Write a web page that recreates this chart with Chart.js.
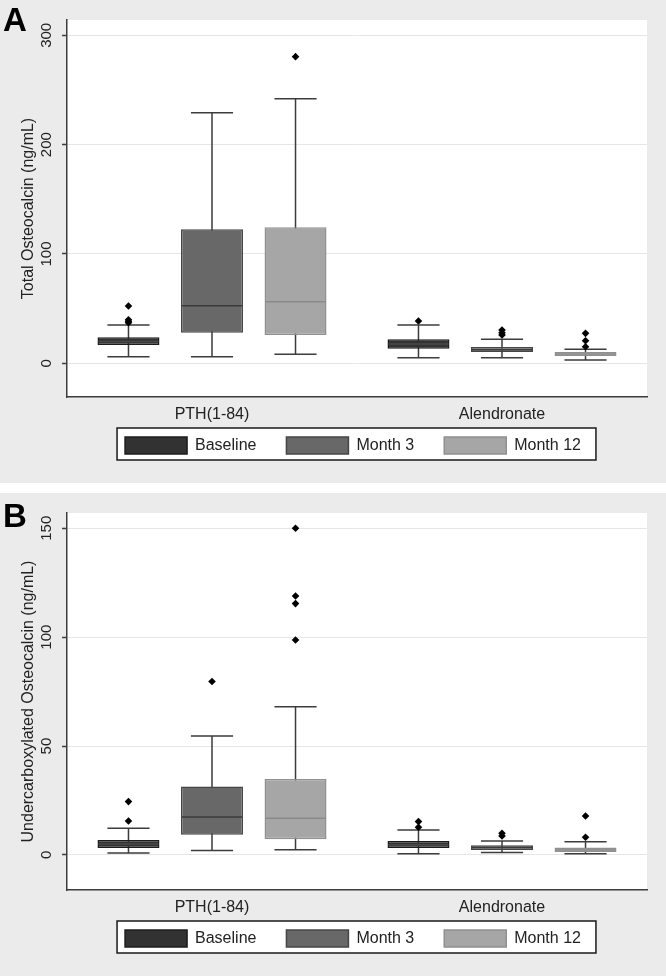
<!DOCTYPE html>
<html>
<head>
<meta charset="utf-8">
<script src="https://cdn.jsdelivr.net/npm/chart.js@4/dist/chart.umd.min.js"></script>
<style>
  html, body { margin: 0; padding: 0; background: #ffffff; }
  body { width: 666px; height: 976px; position: relative; overflow: hidden; }
  .panel { position: absolute; left: 0; width: 666px; height: 483px; background: #ebebeb; }
  #panelA { top: 0; }
  #panelB { top: 493px; }
  .panel canvas { position: absolute; left: 0; top: 0; }
  .letter { position: absolute; left: 3px; font: bold 33px "Liberation Sans", Arial, sans-serif; line-height: 33px; color: #000; }
</style>
</head>
<body>
<div class="panel" id="panelA">
  <canvas id="chartA" width="666" height="483"></canvas>
  <div class="letter" style="top:3px;">A</div>
</div>
<div class="panel" id="panelB">
  <canvas id="chartB" width="666" height="483"></canvas>
  <div class="letter" style="top:6px;">B</div>
</div>
<script>
// ---------------- DATA ----------------
const categories = ['PTH(1-84)', 'Alendronate'];
const seriesNames = ['Baseline', 'Month 3', 'Month 12'];

// Panel A: Total Osteocalcin (ng/mL)
// each entry per category: [lower whisker, Q1, median, Q3, upper whisker]
const totalBaseline = [[6, 16.8, 20, 23.8, 35], [5.1, 13.4, 17.7, 22, 35]];
const totalMonth3   = [[6, 28, 52.7, 122.6, 229.2], [5.1, 10.3, 12.5, 14.9, 22]];
const totalMonth12  = [[8.2, 25.9, 56.4, 124.4, 242], [3, 6.7, 8.5, 10.3, 12.8]];
const totalBaselineOut = [[52.4, 39.8, 38.5, 37.2], [38.7]];
const totalMonth3Out   = [[], [30.5, 28, 26]];
const totalMonth12Out  = [[280.5], [27.4, 20.7, 15.2]];
const totalTicks = [0, 100, 200, 300];

// Panel B: Undercarboxylated Osteocalcin (ng/mL)
const ucBaseline = [[0.9, 3.2, 5, 6.9, 12.2], [0.5, 3.2, 4.7, 6.4, 11.5]];
const ucMonth3   = [[2, 9.3, 17.4, 31.4, 54.6], [1.1, 2.3, 3.4, 4.4, 6.4]];
const ucMonth12  = [[2.4, 7.2, 16.8, 34.9, 68], [0.5, 1.4, 2.3, 3.4, 6]];
const ucBaselineOut = [[24.5, 15.6], [15.3, 12.7]];
const ucMonth3Out   = [[79.6], [9.9, 8.7]];
const ucMonth12Out  = [[150, 118.9, 115.4, 98.7], [17.9, 8.1]];
const ucTicks = [0, 50, 100, 150];

// ---------------- STYLE ----------------
const FONT = '"Liberation Sans", Arial, Helvetica, sans-serif';
Chart.defaults.font.family = FONT;
const fillColors   = ['#323232', '#686868', '#a6a6a6'];
const borderColors = ['#1c1c1c', '#454545', '#909090'];
const medianColors = ['#4a4a4a', '#3a3a3a', '#8a8a8a'];
const lineDark = '#3c3c3c';

const boxPlugin = {
  id: 'boxExtras',
  afterLayout(chart) {
    // pull the legend up next to the category labels and nudge it left
    const lg = chart.legend;
    if (lg) {
      lg.top -= 19; lg.bottom -= 19;
      lg.left -= 4; lg.right -= 4;
    }
  },
  beforeDraw(chart) {
    const {ctx, chartArea: a, width, height} = chart;
    ctx.save();
    ctx.fillStyle = '#ebebeb';
    ctx.fillRect(0, 0, width, height);
    ctx.fillStyle = '#ffffff';
    ctx.fillRect(a.left, a.top, a.right - a.left, a.bottom - a.top);
    const lg = chart.legend;
    if (lg && lg.legendHitBoxes && lg.legendHitBoxes.length) {
      const hb = lg.legendHitBoxes;
      const last = hb[hb.length - 1];
      const l = hb[0].left - 8, t = hb[0].top - 9;
      const r = last.left + last.width + 15, b = hb[0].top + hb[0].height + 6;
      ctx.fillStyle = '#ffffff';
      ctx.fillRect(l, t, r - l, b - t);
      ctx.strokeStyle = '#1a1a1a';
      ctx.lineWidth = 1.5;
      ctx.strokeRect(l, t, r - l, b - t);
    }
    ctx.restore();
  },
  beforeDatasetsDraw(chart) {
    const {ctx} = chart;
    const y = chart.scales.y;
    ctx.save();
    ctx.strokeStyle = lineDark;
    ctx.lineWidth = 1.5;
    chart.data.datasets.forEach((ds, i) => {
      const meta = chart.getDatasetMeta(i);
      meta.data.forEach((bar, j) => {
        const s = ds.stats[j];
        const x = bar.x, cw = bar.width * 0.68;
        const yLo = y.getPixelForValue(s[0]), yHi = y.getPixelForValue(s[4]);
        ctx.beginPath();
        ctx.moveTo(x, yLo); ctx.lineTo(x, yHi);
        ctx.moveTo(x - cw / 2, yLo); ctx.lineTo(x + cw / 2, yLo);
        ctx.moveTo(x - cw / 2, yHi); ctx.lineTo(x + cw / 2, yHi);
        ctx.stroke();
      });
    });
    ctx.restore();
  },
  afterDatasetsDraw(chart) {
    const {ctx} = chart;
    const y = chart.scales.y;
    ctx.save();
    chart.data.datasets.forEach((ds, i) => {
      const meta = chart.getDatasetMeta(i);
      meta.data.forEach((bar, j) => {
        const s = ds.stats[j];
        const x = bar.x, w = bar.width;
        const yMed = y.getPixelForValue(s[2]);
        ctx.strokeStyle = medianColors[i];
        ctx.lineWidth = 1.5;
        ctx.beginPath();
        ctx.moveTo(x - w / 2 + 1, yMed); ctx.lineTo(x + w / 2 - 1, yMed);
        ctx.stroke();
        ctx.fillStyle = '#000000';
        (ds.outliers[j] || []).forEach(v => {
          const py = y.getPixelForValue(v), r = 3.8;
          ctx.beginPath();
          ctx.moveTo(x, py - r); ctx.lineTo(x + r, py); ctx.lineTo(x, py + r); ctx.lineTo(x - r, py);
          ctx.closePath();
          ctx.fill();
        });
      });
    });
    ctx.restore();
  }
};

function makeChart(id, series, outliers, ticks, yMin, yMax, yTitle) {
  const datasets = series.map((stats, i) => ({
    label: seriesNames[i],
    data: stats.map(s => [s[1], s[3]]),
    stats: stats,
    outliers: outliers[i],
    backgroundColor: fillColors[i],
    borderColor: borderColors[i],
    borderWidth: 1.5,
    borderSkipped: false,
    categoryPercentage: 0.864,
    barPercentage: 0.742
  }));
  return new Chart(document.getElementById(id), {
    type: 'bar',
    data: { labels: categories, datasets },
    plugins: [boxPlugin],
    options: {
      responsive: false,
      animation: false,
      devicePixelRatio: 1,
      layout: { padding: { top: 20, right: 19, left: 0, bottom: 0 } },
      plugins: {
        tooltip: { enabled: false },
        legend: {
          position: 'bottom',
          fullSize: false,
          labels: {
            boxWidth: 62, boxHeight: 17, padding: 30,
            color: '#222', font: { size: 16, family: FONT }
          }
        }
      },
      scales: {
        x: {
          grid: { display: false, drawTicks: false },
          border: { display: true, color: lineDark, width: 1.5 },
          ticks: { color: '#222', font: { size: 16, family: FONT }, padding: 8 },
          afterFit: s => { s.height = 29; }
        },
        y: {
          min: yMin, max: yMax,
          afterBuildTicks: s => { s.ticks = ticks.map(v => ({ value: v })); },
          grid: { color: '#e6e6e6', lineWidth: 1, tickColor: lineDark, tickLength: 5, tickWidth: 1.5 },
          border: { display: true, color: lineDark, width: 1.5 },
          ticks: { minRotation: 90, maxRotation: 90, crossAlign: 'center', padding: 3,
                   color: '#222', font: { size: 15, family: FONT } },
          title: { display: true, text: yTitle, color: '#222',
                   font: { size: 16, family: FONT }, padding: { top: 19, bottom: 0 } },
          afterFit: s => { s.width = 67; }
        }
      }
    }
  });
}

makeChart('chartA', [totalBaseline, totalMonth3, totalMonth12],
          [totalBaselineOut, totalMonth3Out, totalMonth12Out],
          totalTicks, -30.8, 314, 'Total Osteocalcin (ng/mL)');
makeChart('chartB', [ucBaseline, ucMonth3, ucMonth12],
          [ucBaselineOut, ucMonth3Out, ucMonth12Out],
          ucTicks, -16.1, 157, 'Undercarboxylated Osteocalcin (ng/mL)');
</script>
</body>
</html>
